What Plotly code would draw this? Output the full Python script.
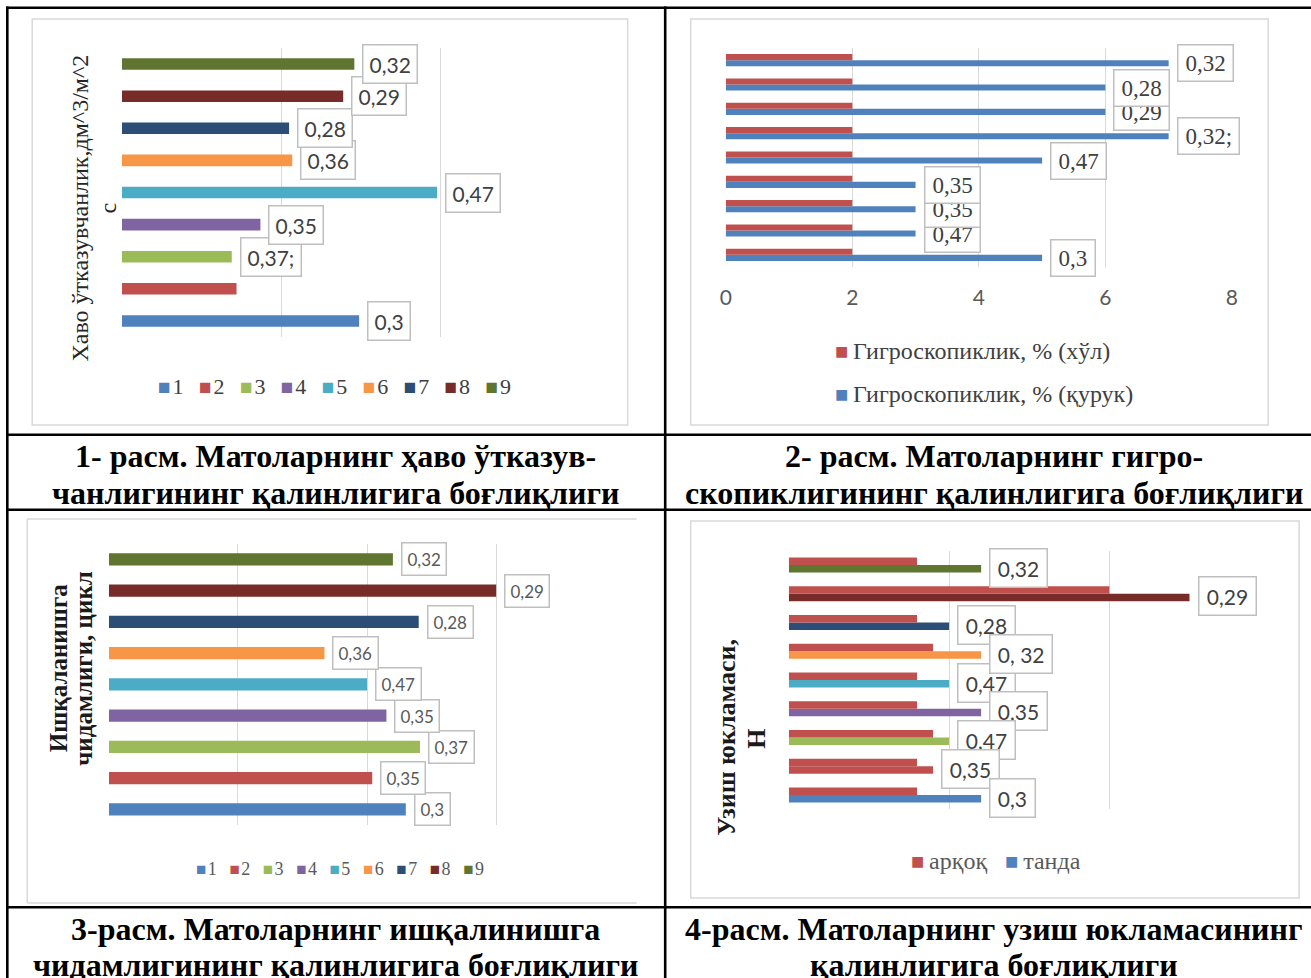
import plotly.graph_objects as go

W, H = 1311, 978

SERIF = "Liberation Serif, Times New Roman, serif"
SANS = "Lato, Carlito, Calibri, sans-serif"

# ---------------- data ----------------
categories = [1, 2, 3, 4, 5, 6, 7, 8, 9]
series_names = ["1", "2", "3", "4", "5", "6", "7", "8", "9"]
series_colors = ["#4f81bd", "#c0504d", "#9bbb59", "#8064a2", "#4bacc6",
                 "#f79646", "#2c4d75", "#772c2a", "#5f7530"]

# 1: air permeability
air_perm = [1.49, 0.72, 0.69, 0.87, 1.98, 1.07, 1.05, 1.39, 1.46]
air_labels = ["0,3", "", "0,37;", "0,35", "0,47", "0,36", "0,28", "0,29", "0,32"]

# 2: hygroscopicity
hygro_wet = [2, 2, 2, 2, 2, 2, 2, 2, 2]
hygro_dry = [5, 3, 3, 3, 5, 7, 6, 6, 7]
hygro_labels = ["0,3", "0,47", "0,35", "0,35", "0,47", "0,32;", "0,29", "0,28", "0,32"]
hygro_ticks = [0, 2, 4, 6, 8]
hygro_names = ["Гигроскопиклик, % (хўл)", "Гигроскопиклик, % (қурук)"]

# 3: abrasion resistance
abrasion = [2.30, 2.04, 2.41, 2.15, 2.00, 1.67, 2.40, 3.00, 2.20]
abrasion_labels = ["0,3", "0,35", "0,37", "0,35", "0,47", "0,36", "0,28", "0,29", "0,32"]

# 4: tensile load
weft = [0.8, 0.8, 0.9, 0.8, 0.8, 0.9, 0.8, 2.0, 0.8]
warp = [1.2, 0.9, 1.0, 1.2, 1.0, 1.2, 1.0, 2.5, 1.2]
tensile_labels = ["0,3", "0,35", "0,47", "0,35", "0,47", "0, 32", "0,28", "0,29", "0,32"]
tensile_names = ["арқоқ", "танда"]

captions = [
    ["1- расм. Матоларнинг ҳаво ўтказув-", "чанлигининг қалинлигига боғлиқлиги"],
    ["2- расм. Матоларнинг гигро-", "скопиклигининг қалинлигига боғлиқлиги"],
    ["3-расм. Матоларнинг ишқалинишга", "чидамлигининг қалинлигига боғлиқлиги"],
    ["4-расм. Матоларнинг узиш юкламасининг", "қалинлигига боғлиқлиги"],
]


# page pixel -> paper fraction
def px(x):
    return (x - 5.8) / 0.9901 / W


def py(y):
    return 1 - y / H


fig = go.Figure()

# ---------------- bars ----------------
fig.add_trace(go.Bar(x=air_perm, y=categories, orientation="h",
                     marker=dict(color=series_colors, line_width=0),
                     width=0.36, xaxis="x", yaxis="y", showlegend=False))

fig.add_trace(go.Bar(x=hygro_dry, y=categories, orientation="h", name=hygro_names[1],
                     marker=dict(color="#4f81bd", line_width=0),
                     width=0.25, offset=-0.25, xaxis="x2", yaxis="y2", showlegend=False))
fig.add_trace(go.Bar(x=hygro_wet, y=categories, orientation="h", name=hygro_names[0],
                     marker=dict(color="#c0504d", line_width=0),
                     width=0.25, offset=0, xaxis="x2", yaxis="y2", showlegend=False))

fig.add_trace(go.Bar(x=abrasion, y=categories, orientation="h",
                     marker=dict(color=series_colors, line_width=0),
                     width=0.39, xaxis="x3", yaxis="y3", showlegend=False))

fig.add_trace(go.Bar(x=warp, y=categories, orientation="h", name=tensile_names[1],
                     marker=dict(color=series_colors, line_width=0),
                     width=0.26, offset=-0.26, xaxis="x4", yaxis="y4", showlegend=False))
fig.add_trace(go.Bar(x=weft, y=categories, orientation="h", name=tensile_names[0],
                     marker=dict(color="#c0504d", line_width=0),
                     width=0.26, offset=0, xaxis="x4", yaxis="y4", showlegend=False))

# ---------------- axes ----------------
grid = dict(showgrid=True, gridcolor="#d9d9d9", gridwidth=1.3, zeroline=False,
            showline=False, ticks="", fixedrange=True)
noy = dict(showgrid=False, zeroline=False, showline=False, showticklabels=False,
           ticks="", range=[0.5, 9.5], fixedrange=True)

fig.update_layout(
    xaxis=dict(domain=[px(121.6), px(598.9)], range=[0, 3], dtick=1,
               showticklabels=False, anchor="y", **grid),
    yaxis=dict(domain=[py(337), py(48)], anchor="x", **noy),
    xaxis2=dict(domain=[px(725), px(1230.8)], range=[0, 8], tickvals=hygro_ticks,
                showticklabels=True, tickfont=dict(family=SANS, size=21, color="#595959"),
                ticklabelstandoff=16, anchor="y2", **grid),
    yaxis2=dict(domain=[py(267), py(48)], anchor="x2", **noy),
    xaxis3=dict(domain=[px(108.6), px(624.6)], range=[0, 4], dtick=1,
                showticklabels=False, anchor="y3", **grid),
    yaxis3=dict(domain=[py(825), py(543.7)], anchor="x3", **noy),
    xaxis4=dict(domain=[px(788), px(1268.5)], range=[0, 3], dtick=1,
                showticklabels=False, anchor="y4", **grid),
    yaxis4=dict(domain=[py(809.4), py(550.6)], anchor="x4", **noy),
)

annotations = []


def add_value_labels(values, texts, xref, yref, yoff, size, family, color, pad, bpad, order,
                     yshift=0):
    for i in order:
        if not texts[i]:
            continue
        annotations.append(dict(
            x=values[i], y=categories[i] + yoff, xref=xref, yref=yref,
            text=pad + texts[i] + pad, showarrow=False, xanchor="left", yanchor="middle",
            xshift=8, yshift=yshift, font=dict(family=family, size=size, color=color),
            bgcolor="white", bordercolor="#bfbfbf", borderwidth=1.5, borderpad=bpad))


add_value_labels(air_perm, air_labels, "x", "y", 0, 21, SANS, "#404040", "", 6, range(9))
add_value_labels(hygro_dry, hygro_labels, "x2", "y2", -0.125, 23, SERIF, "#404040", "\u200a", 5, range(9))
add_value_labels(abrasion, abrasion_labels, "x3", "y3", 0, 17, SANS, "#595959", "", 5, range(9))
# label stacking order for the tensile chart (indices into the category lists)
add_value_labels(warp, tensile_labels, "x4", "y4", -0.13, 21, SANS, "#404040", "\u200a", 6,
                 [8, 7, 6, 4, 5, 3, 2, 1, 0], yshift=1)


def swatch(color, size):
    return f'<span style="color:{color};font-size:{size}px">■</span>'


def text_note(x, y, text, size, color, family=SERIF, xanchor="center", angle=0):
    annotations.append(dict(x=px(x), y=py(y), xref="paper", yref="paper", text=text,
                            showarrow=False, xanchor=xanchor, yanchor="middle",
                            textangle=angle, font=dict(family=family, size=size, color=color)))


# legends
sep = "\u00a0\u00a0\u2009"
leg1 = sep.join(swatch(c, 21) + "\u200a" + n for n, c in zip(series_names, series_colors))
text_note(334, 387, leg1, 22, "#404040")
leg3 = sep.join(swatch(c, 17) + "\u200a" + n for n, c in zip(series_names, series_colors))
text_note(340, 869, leg3, 18, "#595959")
for name, color, yy in [(hygro_names[0], "#c0504d", 351), (hygro_names[1], "#4f81bd", 394)]:
    text_note(832, yy, swatch(color, 22) + "\u2009" + name, 24, "#404040", xanchor="left")
leg4 = "\u00a0\u00a0\u00a0".join(swatch(c, 22) + "\u2009" + n
                                 for n, c in zip(tensile_names, ["#c0504d", "#4f81bd"]))
text_note(995, 861, leg4, 24, "#595959")

# axis titles (one annotation per line)
text_note(78.8, 208.5, "Хаво ўтказувчанлик,дм^3/м^2", 24, "#262626", angle=-90)
text_note(106.8, 208.5, "с", 24, "#262626", angle=-90)
text_note(58.5, 668.5, "<b>Ишқаланишга</b>", 25, "#1a1a1a", angle=-90)
text_note(83, 668.5, "<b>чидамлиги, цикл</b>", 25, "#1a1a1a", angle=-90)
text_note(725, 737, "<b>Узиш юкламаси,</b>", 26, "#1a1a1a", angle=-90)
text_note(755, 739, "<b>Н</b>", 26, "#1a1a1a", angle=-90)

# captions
for lines, cx, (y1, y2) in zip(captions, [335.5, 993, 335.5, 993],
                                [(456, 493), (456, 493), (929, 965), (929, 965)]):
    text_note(cx, y1, f"<b>{lines[0]}</b>", 32, "black")
    text_note(cx, y2, f"<b>{lines[1]}</b>", 32, "black")

# ---------------- frames ----------------
shapes = []


def pline(x0, y0, x1, y1, color, width):
    shapes.append(dict(type="line", xref="paper", yref="paper", x0=px(x0), y0=py(y0),
                       x1=px(x1), y1=py(y1), line=dict(color=color, width=width), layer="below"))


# chart areas
for (l, t, r, b) in [(32, 19, 627, 425), (690, 19, 1267, 425), (690, 521, 1298, 898)]:
    shapes.append(dict(type="rect", xref="paper", yref="paper", x0=px(l), x1=px(r),
                       y0=py(b), y1=py(t), line=dict(color="#d9d9d9", width=1.5), layer="below"))
pline(27, 519, 636, 519, "#d9d9d9", 1.5)
pline(27, 519, 27, 903, "#d9d9d9", 1.5)
pline(27, 903, 636, 903, "#d9d9d9", 1.5)

# table rules
for yy in [7.7, 434.7, 509.7, 907.3]:
    pline(6, yy, 1320, yy, "black", 2.6)
pline(7.1, 6.5, 7.1, 978, "black", 2.6)
pline(664.5, 6.5, 664.5, 978, "black", 2.6)

fig.update_layout(
    width=W, height=H, autosize=False,
    margin=dict(l=0, r=0, t=0, b=0),
    paper_bgcolor="white", plot_bgcolor="white",
    barmode="overlay", showlegend=False,
    annotations=annotations, shapes=shapes,
)

fig.write_html("out.html")
